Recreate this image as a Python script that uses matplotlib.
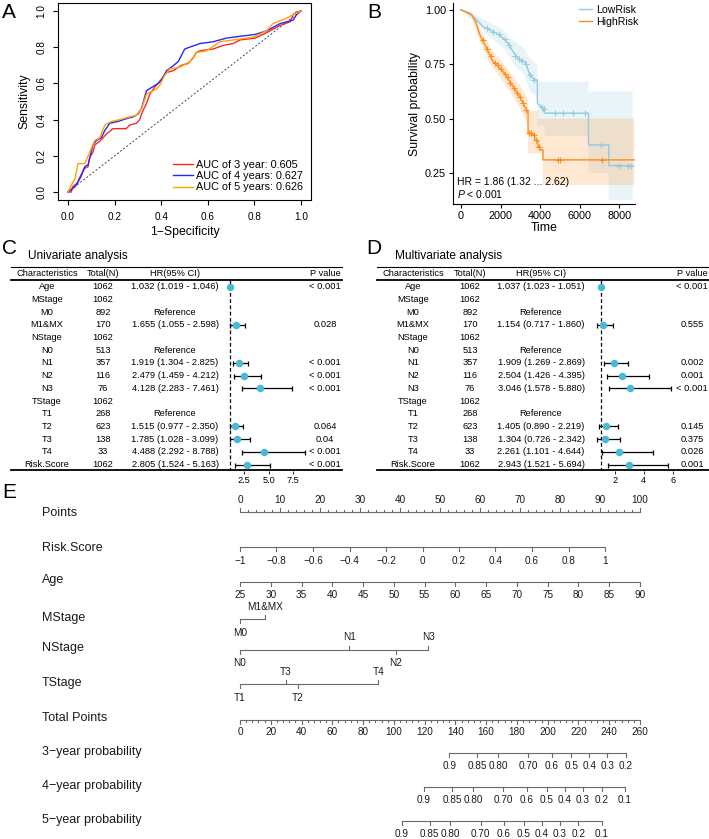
import numpy as np
import matplotlib
matplotlib.use('Agg')
import matplotlib.pyplot as plt
from matplotlib.lines import Line2D

plt.rcParams['font.family'] = ['Liberation Sans', 'DejaVu Sans']
plt.rcParams['mathtext.fontset'] = 'custom'
plt.rcParams['mathtext.it'] = 'Liberation Sans:italic'
plt.rcParams['mathtext.rm'] = 'Liberation Sans'

# ---------------- data: A (time-dependent ROC) ----------------
roc3_fpr = [0, 0.014, 0.02, 0.04, 0.05, 0.07, 0.086, 0.093, 0.107, 0.115, 0.136, 0.165, 0.193, 0.25, 0.265,
            0.294, 0.308, 0.315, 0.337, 0.351, 0.372, 0.394, 0.423, 0.451, 0.487, 0.516, 0.537, 0.55, 0.566,
            0.623, 0.666, 0.709, 0.738, 0.802, 0.852, 0.91, 0.953, 0.967, 0.981, 1.0]
roc3_tpr = [0, 0, 0.03, 0.05, 0.08, 0.13, 0.14, 0.19, 0.22, 0.26, 0.28, 0.32, 0.35, 0.35, 0.37,
            0.38, 0.40, 0.43, 0.49, 0.54, 0.58, 0.61, 0.66, 0.67, 0.70, 0.71, 0.74, 0.77, 0.78,
            0.79, 0.81, 0.82, 0.84, 0.85, 0.88, 0.92, 0.94, 0.98, 0.995, 1.0]
roc4_fpr = [0, 0.03, 0.043, 0.057, 0.072, 0.086, 0.107, 0.122, 0.143, 0.158, 0.179, 0.215, 0.25, 0.279,
            0.3, 0.315, 0.337, 0.387, 0.401, 0.423, 0.444, 0.473, 0.501, 0.566, 0.623, 0.68, 0.738, 0.802,
            0.852, 0.91, 0.967, 0.981, 1.0]
roc4_tpr = [0, 0.03, 0.055, 0.09, 0.14, 0.15, 0.26, 0.285, 0.30, 0.34, 0.38, 0.39, 0.405, 0.415,
            0.43, 0.46, 0.56, 0.60, 0.62, 0.67, 0.69, 0.72, 0.79, 0.82, 0.83, 0.85, 0.86, 0.87,
            0.89, 0.93, 0.95, 0.98, 1.0]
roc5_fpr = [0, 0.014, 0.03, 0.043, 0.072, 0.093, 0.115, 0.136, 0.158, 0.186, 0.222, 0.265, 0.294, 0.315,
            0.337, 0.38, 0.394, 0.415, 0.437, 0.48, 0.523, 0.552, 0.595, 0.652, 0.709, 0.795, 0.852, 0.88,
            0.938, 0.967, 1.0]
roc5_tpr = [0, 0.037, 0.074, 0.157, 0.157, 0.22, 0.285, 0.30, 0.37, 0.39, 0.40, 0.415, 0.425, 0.46,
            0.54, 0.57, 0.59, 0.645, 0.68, 0.69, 0.72, 0.77, 0.78, 0.83, 0.84, 0.855, 0.89, 0.93,
            0.96, 0.98, 1.0]
roc_labels = ['AUC of 3 year: 0.605', 'AUC of 4 years: 0.627', 'AUC of 5 years: 0.626']

# ---------------- data: B (Kaplan-Meier) ----------------
high_t = [0, 285, 537, 704, 822, 956, 1124, 1291, 1459, 1627, 1794, 1962, 2130, 2297, 2465, 2633, 2801,
          2968, 3102, 3220, 3388, 3388, 3555, 3555, 3723, 3723, 3891, 3891, 3975, 3975, 4142, 4142, 8750]
high_s = [1.0, 0.99, 0.977, 0.954, 0.923, 0.885, 0.854, 0.824, 0.793, 0.762, 0.747, 0.732, 0.716, 0.693,
          0.670, 0.647, 0.624, 0.601, 0.578, 0.555, 0.532, 0.433, 0.433, 0.425, 0.425, 0.40, 0.40, 0.371,
          0.371, 0.356, 0.356, 0.310, 0.310]
high_up_t = [0, 537, 956, 1459, 1962, 2465, 2968, 3388, 3388, 3891, 3891, 8750]
high_up_s = [1.0, 0.99, 0.915, 0.83, 0.775, 0.715, 0.655, 0.59, 0.535, 0.535, 0.50, 0.50]
high_lo_t = [0, 537, 956, 1459, 1962, 2465, 2968, 3388, 3388, 4142, 4142, 8750]
high_lo_s = [1.0, 0.965, 0.855, 0.755, 0.69, 0.625, 0.55, 0.475, 0.34, 0.34, 0.195, 0.195]
high_cens_t = [1100, 1300, 1500, 1700, 1850, 2000, 2200, 2350, 2500, 2700, 2850, 3000, 3150, 3300,
               3450, 3520, 3700, 3800, 3930, 4900, 4980, 7110]
high_cens_s = [0.86, 0.82, 0.79, 0.755, 0.745, 0.73, 0.705, 0.69, 0.665, 0.64, 0.62, 0.60, 0.57, 0.54,
               0.433, 0.433, 0.425, 0.40, 0.371, 0.31, 0.31, 0.31]

low_t = [0, 453, 788, 1124, 1459, 1794, 2130, 2381, 2633, 2884, 3220, 3337, 3471, 3723, 3857, 3857,
         4058, 4226, 6440, 6440, 7463, 7463, 8670]
low_s = [1.0, 0.985, 0.954, 0.923, 0.908, 0.893, 0.870, 0.847, 0.808, 0.778, 0.762, 0.739, 0.701, 0.678,
         0.678, 0.571, 0.555, 0.525, 0.525, 0.379, 0.379, 0.284, 0.284]
low_up_t = [0, 788, 1459, 2130, 2633, 3220, 3471, 3857, 3857, 6440, 6440, 8670]
low_up_s = [1.0, 0.975, 0.94, 0.91, 0.86, 0.82, 0.775, 0.75, 0.67, 0.67, 0.625, 0.625]
low_lo_t = [0, 788, 1459, 2130, 2633, 3220, 3471, 3857, 3857, 4226, 4226, 6440, 6440, 7463, 7463, 8670]
low_lo_s = [1.0, 0.935, 0.875, 0.83, 0.755, 0.70, 0.625, 0.60, 0.47, 0.47, 0.42, 0.42, 0.25, 0.25,
            0.126, 0.126]
low_cens_t = [1300, 1600, 1900, 2200, 2450, 2750, 2950, 3100, 3280, 3500, 3700, 4100, 4180, 4730, 5150,
              5650, 6240, 7080, 8000, 8420, 8590]
low_cens_s = [0.915, 0.90, 0.89, 0.865, 0.84, 0.79, 0.775, 0.765, 0.75, 0.70, 0.678, 0.555, 0.545, 0.525,
              0.525, 0.525, 0.525, 0.379, 0.284, 0.284, 0.284]

# ---------------- data: C / D (Cox tables) ----------------
characteristics = ['Age', 'MStage', 'M0', 'M1&MX', 'NStage', 'N0', 'N1', 'N2', 'N3', 'TStage', 'T1', 'T2',
                   'T3', 'T4', 'Risk.Score']
totals = ['1062', '1062', '892', '170', '1062', '513', '357', '116', '76', '1062', '268', '623', '138',
          '33', '1062']
reference_rows = ['M0', 'N0', 'T1']

uni_hr = [1.032, None, None, 1.655, None, None, 1.919, 2.479, 4.128, None, None, 1.515, 1.785, 4.488, 2.805]
uni_lo = [1.019, None, None, 1.055, None, None, 1.304, 1.459, 2.283, None, None, 0.977, 1.028, 2.292, 1.524]
uni_hi = [1.046, None, None, 2.598, None, None, 2.825, 4.212, 7.461, None, None, 2.350, 3.099, 8.788, 5.163]
uni_p = ['< 0.001', '', '', '0.028', '', '', '< 0.001', '< 0.001', '< 0.001', '', '', '0.064', '0.04',
         '< 0.001', '< 0.001']

multi_hr = [1.037, None, None, 1.154, None, None, 1.909, 2.504, 3.046, None, None, 1.405, 1.304, 2.261, 2.943]
multi_lo = [1.023, None, None, 0.717, None, None, 1.269, 1.426, 1.578, None, None, 0.890, 0.726, 1.101, 1.521]
multi_hi = [1.051, None, None, 1.860, None, None, 2.869, 4.395, 5.880, None, None, 2.219, 2.342, 4.644, 5.694]
multi_p = ['< 0.001', '', '', '0.555', '', '', '0.002', '0.001', '< 0.001', '', '', '0.145', '0.375',
           '0.026', '0.001']

# ---------------- data: E (nomogram) ----------------
risk_ticks = [-1, -0.8, -0.6, -0.4, -0.2, 0, 0.2, 0.4, 0.6, 0.8, 1]
risk_pts = (0, 91.25)             # points at Risk.Score -1 and 1
age_ticks = list(range(25, 91, 5))
age_pts = (0, 100)                # points at age 25 and 90
mstage_levels = ['M0', 'M1&MX']
mstage_pts = [0, 6.25]
nstage_levels = ['N0', 'N1', 'N2', 'N3']
nstage_pts = [0, 27.3, 38.9, 47.1]
tstage_levels = ['T1', 'T2', 'T3', 'T4']
tstage_pts = [0, 14.4, 11.4, 34.6]
total_max = 260
prob3_labels = ['0.9', '0.85', '0.80', '0.70', '0.6', '0.5', '0.4', '0.3', '0.2']
prob4_labels = ['0.9', '0.85', '0.80', '0.70', '0.6', '0.5', '0.4', '0.3', '0.2', '0.1']
prob5_labels = prob4_labels
prob3_ends = (136.0, 250.9)       # total points of first / last label
prob4_ends = (119.6, 250.25)
prob5_ends = (105.1, 235.1)

W, H = 709, 839
fig = plt.figure(figsize=(W / 100, H / 100), dpi=100)


def px_axes(x0, y0, x1, y1):
    return fig.add_axes([x0 / W, 1 - y1 / H, (x1 - x0) / W, (y1 - y0) / H])


def px_text(x, y, s, **kw):
    fig.text(x / W, 1 - y / H, s, **kw)


# panel letters
for letter, (lx, ly) in zip('ABCDE', [(2, 13), (367, 13), (2, 248), (366, 248), (2, 493)]):
    px_text(lx, ly, letter, fontsize=15, ha='left', va='center')

# ---------------- A ----------------
axA = px_axes(58, 3, 311, 200)
axA.plot([0, 1], [0, 1], ls=(0, (2, 2)), color='#444444', lw=0.7)
for f, t, c, lab in zip([roc3_fpr, roc4_fpr, roc5_fpr], [roc3_tpr, roc4_tpr, roc5_tpr],
                        ['#FF2626', '#2626FF', '#FFA500'], roc_labels):
    axA.plot(f, t, color=c, lw=1.0, label=lab)
axA.set_xlim(-0.043, 1.043)
axA.set_ylim(-0.044, 1.044)
ticks = np.arange(0, 1.01, 0.2)
axA.set_xticks(ticks)
axA.set_yticks(ticks)
axA.set_xticklabels(['%.1f' % v for v in ticks])
axA.set_yticklabels(['%.1f' % v for v in ticks], rotation=90, va='center')
axA.tick_params(length=3.5, width=0.8, labelsize=7.2, pad=5)
for s in axA.spines.values():
    s.set_linewidth(0.8)
axA.set_xlabel('1\u2212Specificity', fontsize=8.8, labelpad=3)
axA.set_ylabel('Sensitivity', fontsize=8.8, labelpad=4)
axA.legend(loc='lower right', frameon=False, fontsize=7.8, handlelength=1.9, handletextpad=0.3,
           labelspacing=0.12, borderaxespad=0.4, borderpad=0.3)

# ---------------- B ----------------
c_low, c_high = '#93CCDD', '#FF8C1A'
axB = px_axes(453, 3, 635, 204)
axB.fill(np.r_[low_up_t, low_lo_t[::-1]], np.r_[low_up_s, low_lo_s[::-1]], color=c_low, alpha=0.2, lw=0)
axB.fill(np.r_[high_up_t, high_lo_t[::-1]], np.r_[high_up_s, high_lo_s[::-1]], color=c_high, alpha=0.2, lw=0)
axB.plot(low_t, low_s, color=c_low, lw=1.0)
axB.plot(high_t, high_s, color=c_high, lw=1.0)
axB.plot(low_cens_t, low_cens_s, ls='none', marker='+', ms=5, mew=0.8, color=c_low)
axB.plot(high_cens_t, high_cens_s, ls='none', marker='+', ms=5, mew=0.8, color=c_high)
axB.set_xlim(-403, 8790)
axB.set_ylim(0.107, 1.032)
axB.set_xticks([0, 2000, 4000, 6000, 8000])
axB.set_yticks([0.25, 0.5, 0.75, 1.0])
axB.set_yticklabels(['0.25', '0.50', '0.75', '1.00'])
axB.spines['top'].set_visible(False)
axB.spines['right'].set_visible(False)
for s in ['left', 'bottom']:
    axB.spines[s].set_linewidth(0.8)
axB.tick_params(length=3, width=0.8, labelsize=7.8, pad=2)
axB.set_xlabel('Time', fontsize=8.8, labelpad=1)
axB.set_ylabel('Survival probability', fontsize=8.8, labelpad=3)
handles = [Line2D([], [], color=c_low, lw=1.0), Line2D([], [], color=c_high, lw=1.0)]
axB.legend(handles, ['LowRisk', 'HighRisk'], loc='upper left', bbox_to_anchor=(0.68, 1.0), frameon=False,
           fontsize=7.6, handlelength=1.2, handletextpad=0.4, labelspacing=0.15, borderaxespad=0, borderpad=0.2)
axB.text(0.022, 0.11, 'HR = 1.86 (1.32 ... 2.62)', transform=axB.transAxes, fontsize=7.5, va='center')
axB.text(0.022, 0.05, '$\\mathit{P}$ < 0.001', transform=axB.transAxes, fontsize=7.5, va='center')


# ---------------- C / D ----------------
def draw_forest(tx0, tx1, hr0_px, px_per_unit, hr_max, cols, hr, lo, hi, pvals, xticks, xticklabels,
                title, title_x):
    top, bot = 267, 471
    ylim = (14.51, -1.551)
    tab = px_axes(tx0, top, tx1, bot)
    tab.set_xlim(tx0, tx1)
    tab.set_ylim(*ylim)
    tab.axis('off')
    tab.plot([tx0, tx1], [-1.52, -1.52], color='k', lw=0.8, clip_on=False)
    tab.plot([tx0, tx1], [-0.5, -0.5], color='k', lw=1.3, clip_on=False)
    tab.plot([tx0, tx1], [14.47, 14.47], color='k', lw=1.3, clip_on=False)
    fs = 6.7
    for x, s in zip(cols, ['Characteristics', 'Total(N)', 'HR(95% CI)', 'P value']):
        tab.text(x, -1, s, ha='center', va='center', fontsize=fs)
    for i, ch in enumerate(characteristics):
        tab.text(cols[0], i, ch, ha='center', va='center', fontsize=fs)
        tab.text(cols[1], i, totals[i], ha='center', va='center', fontsize=fs)
        if hr[i] is not None:
            s = '%.3f (%.3f - %.3f)' % (hr[i], lo[i], hi[i])
        elif ch in reference_rows:
            s = 'Reference'
        else:
            s = ''
        tab.text(cols[2], i, s, ha='center', va='center', fontsize=fs)
        tab.text(cols[3], i, pvals[i], ha='center', va='center', fontsize=fs)
    px_text(title_x, 256, title, fontsize=8.6, ha='left', va='center')

    fa = px_axes(hr0_px, top, hr0_px + hr_max * px_per_unit, bot)
    fa.set_xlim(0, hr_max)
    fa.set_ylim(*ylim)
    fa.patch.set_alpha(0)
    for s in fa.spines.values():
        s.set_visible(False)
    fa.plot([1, 1], [-0.5, 14.5], color='k', lw=0.9, ls=(0, (3, 2)))
    rows = [i for i in range(len(hr)) if hr[i] is not None]
    h = np.array([hr[i] for i in rows])
    l = np.array([lo[i] for i in rows])
    u = np.array([hi[i] for i in rows])
    fa.errorbar(h, rows, xerr=[h - l, u - h], fmt='o', ms=4.4, mfc='#4DB8D6', mec='#4DB8D6',
                ecolor='k', elinewidth=0.9, capsize=1.8, capthick=0.9, zorder=3)
    fa.set_yticks([])
    fa.set_xticks(xticks)
    fa.set_xticklabels(xticklabels)
    fa.tick_params(axis='x', length=2, width=0.6, labelsize=6.6, pad=1.5)


draw_forest(11, 342, 220.1, 9.7, 10, [47, 103, 175, 325], uni_hr, uni_lo, uni_hi, uni_p,
            [2.5, 5.0, 7.5], ['2.5', '5.0', '7.5'], 'Univariate analysis', 28)
draw_forest(377, 709, 586.2, 14.4, 7, [413, 470, 541, 692], multi_hr, multi_lo, multi_hi, multi_p,
            [2, 4, 6], ['2', '4', '6'], 'Multivariate analysis', 395)

# ---------------- E (nomogram) ----------------
axE = px_axes(0, 480, 709, 839)
axE.set_xlim(-60, 117.25)
axE.set_ylim(839, 480)
axE.axis('off')
lc = '#6a6a6a'
lab_fs, tk_fs = 9, 7.2
name_x = -49.5


def seg(p0, p1, y):
    axE.plot([p0, p1], [y, y], color=lc, lw=0.8, solid_capstyle='butt')


def tick(p, y, ln):
    axE.plot([p, p], [y, y + ln], color=lc, lw=0.8)


def name(y, s):
    axE.text(name_x, y, s, fontsize=lab_fs, ha='left', va='center', color='#1a1a1a')


def lab(p, y, s):
    axE.text(p, y, s, fontsize=tk_fs, ha='center', va='center', color='#1a1a1a')


def lin(v, v0, v1, p0, p1):
    return p0 + (p1 - p0) * (v - v0) / (v1 - v0)


# Points
y = 512
name(513, 'Points')
seg(0, 100, y)
for p in range(0, 101, 2):
    tick(p, y, -4 if p % 10 == 0 else -2)
for p in range(0, 101, 10):
    lab(p, 500, str(p))

# Risk.Score
y = 547
name(548, 'Risk.Score')
seg(risk_pts[0], risk_pts[1], y)
for v in risk_ticks:
    p = lin(v, risk_ticks[0], risk_ticks[-1], *risk_pts)
    tick(p, y, 4)
    lab(p, 561, ('%g' % v).replace('-', '\u2212'))

# Age
y = 582
name(580, 'Age')
seg(age_pts[0], age_pts[1], y)
for v in age_ticks:
    p = lin(v, age_ticks[0], age_ticks[-1], *age_pts)
    tick(p, y, 4)
    lab(p, 595, str(v))


def categorical(y, levels, pts, above):
    seg(min(pts), max(pts), y)
    for lv, p in zip(levels, pts):
        if lv in above:
            tick(p, y, -4)
            lab(p, y - 12.5, lv)
        else:
            tick(p, y, 4)
            lab(p, y + 13.5, lv)


name(618, 'MStage')
categorical(619, mstage_levels, mstage_pts, ['M1&MX'])
name(648, 'NStage')
categorical(649.5, nstage_levels, nstage_pts, ['N1', 'N3'])
name(683, 'TStage')
categorical(684, tstage_levels, tstage_pts, ['T3', 'T4'])

# Total Points
y = 720
name(718, 'Total Points')
scale = 100 / total_max
seg(0, total_max * scale, y)
for v in range(0, total_max + 1, 4):
    tick(v * scale, y, 4 if v % 20 == 0 else 2)
for v in range(0, total_max + 1, 20):
    lab(v * scale, 732, str(v))


def cloglog(p):
    return np.log(-np.log(p))


def prob_row(y, s, labels, ends):
    name(y - 1, s)
    vals = [float(t) for t in labels]
    c0, c1 = cloglog(vals[0]), cloglog(vals[-1])
    pos = [lin(cloglog(v), c0, c1, *ends) * scale for v in vals]
    seg(pos[0], pos[-1], y)
    for p, t in zip(pos, labels):
        tick(p, y, 4)
        lab(p, y + 13, t)


prob_row(753, '3\u2212year probability', prob3_labels, prob3_ends)
prob_row(787, '4\u2212year probability', prob4_labels, prob4_ends)
prob_row(821, '5\u2212year probability', prob5_labels, prob5_ends)

fig.savefig('out.png', dpi=100)
